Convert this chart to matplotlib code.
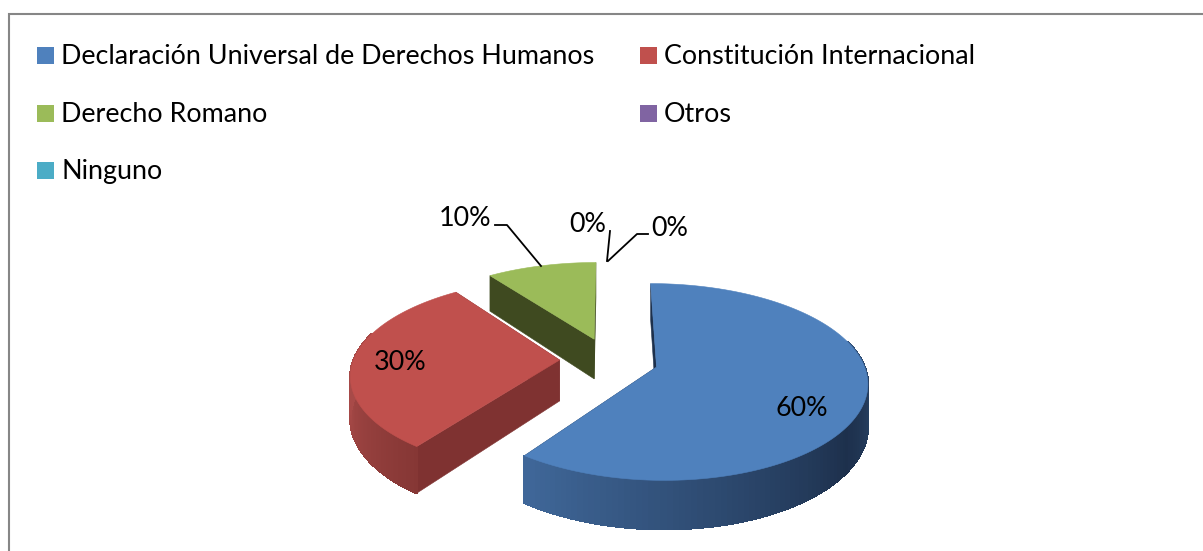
import numpy as np
import matplotlib
matplotlib.use("Agg")
import matplotlib.pyplot as plt
from matplotlib.patches import Polygon, Rectangle

# datos del grafico
categories = ["Declaración Universal de Derechos Humanos", "Constitución Internacional",
              "Derecho Romano", "Otros", "Ninguno"]
values = [60, 30, 10, 0, 0]
labels = ["60%", "30%", "10%", "0%", "0%"]
colors = ["#4f81bd", "#c0504d", "#9bbb59", "#8064a2", "#4bacc6"]
cut_colors = ["#1d304c", "#7f3231", "#3f4a20", "#4d3c61", "#2d6777"]
rim_light = ["#40689a", "#a84a48", "#5d7035", "#4d3c61", "#2d6777"]
rim_dark = ["#1d304c", "#863735", "#3f4a20", "#4d3c61", "#2d6777"]
# angulo mas oscuro del borde y recorrido del degradado
dark_angle = [125, 216, 324, 0, 0]
dark_span = [91, 50, 36, 1, 1]

# geometria del pastel 3D (pixeles)
CX, CY = 609, 360
RX, RY = 206, 94
KX, KY = 0.14, 0.15
EXPLODE = 0.24
DEPTH = 41


def project(X, Y, z=0.0):
    sx = 1 / (1 - KX * Y)
    sy = 1 / (1 - KY * Y)
    return CX + RX * X * sx, CY + RY * Y * sy + z * DEPTH * sy


def hex_mix(a, b, t):
    ca = np.array(matplotlib.colors.to_rgb(a))
    cb = np.array(matplotlib.colors.to_rgb(b))
    return tuple(ca + (cb - ca) * t)


def draw_slice(ax, start, end, i, order):
    mid = np.radians((start + end) / 2)
    ox, oy = EXPLODE * np.sin(mid), -EXPLODE * np.cos(mid)
    deg = np.linspace(start, end, 150)
    th = np.radians(deg)
    X = ox + np.sin(th)
    Y = oy - np.cos(th)

    # caras de corte interiores
    for a in (start, end):
        t = np.radians(a)
        px, py = ox + np.sin(t), oy - np.cos(t)
        pts = [project(ox, oy), project(px, py), project(px, py, 1), project(ox, oy, 1)]
        ax.add_patch(Polygon(pts, fc=cut_colors[i], ec=cut_colors[i], lw=0.4, zorder=order))

    # borde exterior con degradado
    front = np.where(np.cos(th) < 0.3)[0]
    for j in front[:-1]:
        k = j + 1
        t = np.clip(abs(deg[j] - dark_angle[i]) / dark_span[i], 0, 1)
        c = hex_mix(rim_dark[i], rim_light[i], t)
        pts = [project(X[j], Y[j]), project(X[k], Y[k]), project(X[k], Y[k], 1), project(X[j], Y[j], 1)]
        ax.add_patch(Polygon(pts, fc=c, ec=c, lw=1.0, antialiased=False, zorder=order + 0.1))

    # cara superior
    top = [project(ox, oy)] + [project(a, b) for a, b in zip(X, Y)]
    ax.add_patch(Polygon(top, fc=colors[i], ec=colors[i], lw=0.4, zorder=order + 0.2))


fig = plt.figure(figsize=(12.03, 5.51), dpi=100)
ax = fig.add_axes([0, 0, 1, 1])
ax.set_xlim(0, 1203)
ax.set_ylim(551, 0)
ax.axis("off")
plt.rcParams["font.family"] = ["Lato", "DejaVu Sans"]

# marco
ax.add_patch(Rectangle((8.5, 13.5), 1300, 700, fc="white", ec="#868686", lw=1.5, zorder=0))

# leyenda
legend_x = [37, 640, 37, 640, 37]
legend_y = [47, 47, 105, 105, 162]
for i, name in enumerate(categories):
    ax.add_patch(Rectangle((legend_x[i], legend_y[i]), 17, 17, fc=colors[i], ec="none", zorder=2))
    ax.text(legend_x[i] + 24, legend_y[i] + 10, name, fontsize=19.35, va="center", ha="left", color="black")

# porciones, de atras hacia delante
angles = np.cumsum([0] + values) * 3.6
draw_slice(ax, angles[2], angles[3], 2, 3)
draw_slice(ax, angles[1], angles[2], 1, 4)
draw_slice(ax, angles[0], angles[1], 0, 5)

# etiquetas
label_x = [802, 400, 465, 588, 670]
label_y = [408, 363, 219, 224, 228]
for i, s in enumerate(labels):
    ax.text(label_x[i], label_y[i], s, fontsize=19.35, ha="center", va="center", color="black", zorder=10)

# lineas guia
ax.plot([495, 507, 541], [225, 225, 266], color="black", lw=1.3, zorder=9)
ax.plot([610, 607], [231, 261], color="black", lw=1.3, zorder=9)
ax.plot([648, 637, 608], [234, 234, 261], color="black", lw=1.3, zorder=9)

fig.savefig("out.png", dpi=100)
